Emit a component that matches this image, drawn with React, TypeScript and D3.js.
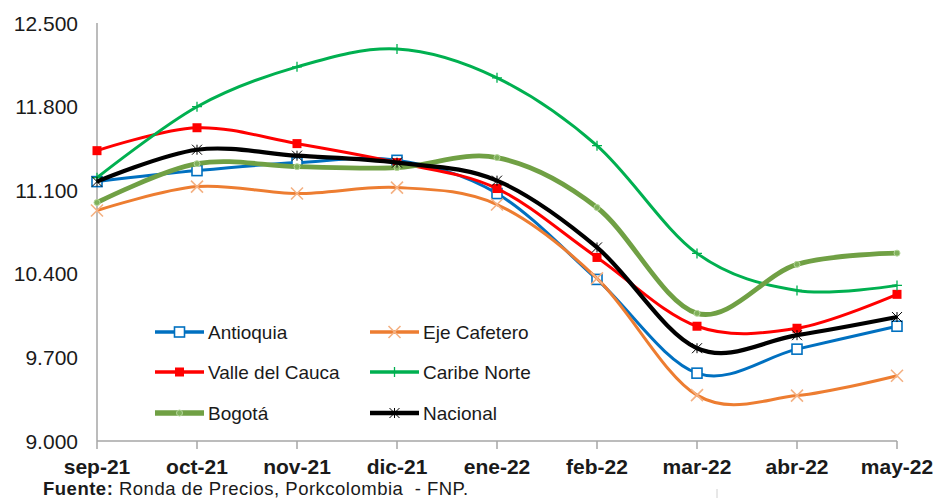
import React from "react";
import * as d3 from "d3";

const months = ["sep-21", "oct-21", "nov-21", "dic-21", "ene-22", "feb-22", "mar-22", "abr-22", "may-22"];
const yTicks = [9000, 9700, 10400, 11100, 11800, 12500];

const antioquia = [11172, 11264, 11331, 11350, 11072, 10353, 9568, 9769, 9961];
const ejeCafetero = [10930, 11130, 11072, 11122, 10980, 10362, 9384, 9380, 9546];
const valleCauca = [11431, 11623, 11490, 11331, 11114, 10537, 9961, 9944, 10228];
const caribeNorte = [11205, 11799, 12133, 12283, 12041, 11473, 10571, 10261, 10303];
const bogota = [10997, 11322, 11297, 11289, 11373, 10955, 10069, 10479, 10573];
const nacional = [11172, 11439, 11389, 11331, 11180, 10621, 9777, 9886, 10038];

type MarkerKind = "sqOpen" | "sqFill" | "x" | "plus" | "dot" | "star";

const seriesList: { name: string; values: number[]; color: string; width: number; marker: MarkerKind; mcolor: string }[] = [
  { name: "Antioquia", values: antioquia, color: "#0070C0", width: 3, marker: "sqOpen", mcolor: "#0070C0" },
  { name: "Eje Cafetero", values: ejeCafetero, color: "#ED7D31", width: 3, marker: "x", mcolor: "#F4B183" },
  { name: "Valle del Cauca", values: valleCauca, color: "#FF0000", width: 3, marker: "sqFill", mcolor: "#FF0000" },
  { name: "Caribe Norte", values: caribeNorte, color: "#00B050", width: 3, marker: "plus", mcolor: "#00B050" },
  { name: "Bogotá", values: bogota, color: "#70A044", width: 4.8, marker: "dot", mcolor: "#70A044" },
  { name: "Nacional", values: nacional, color: "#000000", width: 4.2, marker: "star", mcolor: "#000000" },
];

const W = 938;
const H = 498;
const font = "'Liberation Sans', Arial, sans-serif";

const locale = d3.formatLocale({ decimal: ",", thousands: ".", grouping: [3], currency: ["$", ""] });
const fmt = locale.format(",.0f");

function Marker({ kind, x, y, color }: { kind: MarkerKind; x: number; y: number; color: string }) {
  switch (kind) {
    case "sqOpen":
      return <rect x={x - 5} y={y - 5} width={10} height={10} fill="#fff" stroke={color} strokeWidth={1.6} />;
    case "sqFill":
      return <rect x={x - 4.5} y={y - 4.5} width={9} height={9} fill={color} />;
    case "x":
      return (
        <path d={`M${x - 6},${y - 6}L${x + 6},${y + 6}M${x - 6},${y + 6}L${x + 6},${y - 6}`} stroke={color} strokeWidth={1.6} fill="none" />
      );
    case "plus":
      return <path d={`M${x - 5},${y}L${x + 5},${y}M${x},${y - 5}L${x},${y + 5}`} stroke={color} strokeWidth={1.3} fill="none" />;
    case "dot":
      return <circle cx={x} cy={y} r={3} fill="#7FB05A" stroke="#B5D69A" strokeWidth={1} />;
    case "star":
      return (
        <path
          d={`M${x - 5},${y - 5}L${x + 5},${y + 5}M${x - 5},${y + 5}L${x + 5},${y - 5}M${x},${y - 5}L${x},${y + 5}`}
          stroke={color}
          strokeWidth={1}
          fill="none"
        />
      );
  }
  return null;
}

export default function App() {
  const x = d3.scalePoint<string>().domain(months).range([97, 897]);
  const y = d3.scaleLinear().domain([9000, 12500]).range([441, 23]);
  const line = d3
    .line<number>()
    .x((_, i) => x(months[i]) as number)
    .y((d) => y(d))
    .curve(d3.curveCardinal.tension(0));

  const legendRows = [332, 372, 413];
  const legendCols = [155, 370];

  return (
    <svg width={W} height={H} style={{ position: "absolute", left: 0, top: 0, background: "#fff" }} fontFamily={font}>
      <rect width={W} height={H} fill="#fff" />
      {/* axes */}
      <line x1={97} y1={23} x2={97} y2={441} stroke="#A6A6A6" strokeWidth={1.5} />
      <line x1={97} y1={441} x2={897} y2={441} stroke="#A6A6A6" strokeWidth={1.5} />
      {months.map((m) => (
        <line key={m} x1={x(m)} x2={x(m)} y1={441} y2={449} stroke="#A6A6A6" strokeWidth={1.5} />
      ))}
      {yTicks.map((t) => (
        <text key={t} x={78} y={y(t)} dy="0.36em" textAnchor="end" fontSize={21} fill="#1a1a1a">
          {fmt(t)}
        </text>
      ))}
      {months.map((m) => (
        <text key={m} x={x(m)} y={474} textAnchor="middle" fontSize={21} fontWeight="bold" fill="#1a1a1a">
          {m}
        </text>
      ))}
      {/* series */}
      {seriesList.map((s) => (
        <g key={s.name}>
          <path d={line(s.values) || ""} fill="none" stroke={s.color} strokeWidth={s.width} strokeLinejoin="round" />
          {s.values.map((v, i) => (
            <Marker key={i} kind={s.marker} x={x(months[i]) as number} y={y(v)} color={s.mcolor} />
          ))}
        </g>
      ))}
      {/* legend */}
      {seriesList.map((s, i) => {
        const col = i % 2;
        const row = Math.floor(i / 2);
        const lx = legendCols[col];
        const ly = legendRows[row];
        return (
          <g key={s.name}>
            <line x1={lx} x2={lx + 49} y1={ly} y2={ly} stroke={s.color} strokeWidth={s.width + 0.5} />
            <Marker kind={s.marker} x={lx + 24.5} y={ly} color={s.mcolor} />
            <text x={lx + 53} y={ly} dy="0.36em" fontSize={19} fill="#1a1a1a">
              {s.name}
            </text>
          </g>
        );
      })}
      {/* source */}
      <text x={43} y={495} fontSize={18.5} fill="#1a1a1a" letterSpacing={0.5}>
        <tspan fontWeight="bold">Fuente:</tspan>
        <tspan>{" Ronda de Precios, Porkcolombia\u00A0\u00A0- FNP."}</tspan>
      </text>
      <line x1={717} x2={717} y1={489} y2={498} stroke="#D0D0D0" strokeWidth={1} />
    </svg>
  );
}
